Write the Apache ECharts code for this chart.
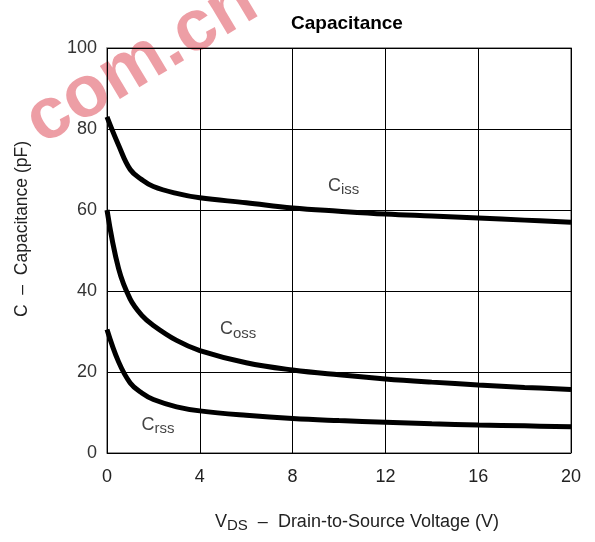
<!DOCTYPE html>
<html><head><meta charset="utf-8">
<script src="https://cdn.jsdelivr.net/npm/echarts@6/dist/echarts.min.js"></script>
<style>html,body{margin:0;padding:0;background:#fff}#c{width:595px;height:542px}</style>
</head><body><div id="c"></div>
<script>
const vds = [0, 0.5, 1, 1.5, 2, 3, 4, 6, 8, 10, 12, 14, 16, 18, 20];
const ciss = [83, 76, 70, 67.5, 65.8, 64.1, 63, 61.8, 60.5, 59.7, 59, 58.5, 58, 57.5, 57];
const coss = [60, 45.5, 38, 34, 31.5, 27.8, 25.3, 22.3, 20.5, 19.3, 18.3, 17.5, 16.8, 16.2, 15.7];
const crss = [30.5, 22.5, 17.3, 14.8, 13.2, 11.4, 10.4, 9.3, 8.5, 8, 7.6, 7.2, 6.9, 6.7, 6.5];
const seriesNames = ['iss', 'oss', 'rss'];
const labelX = [10.2, 5.65, 2.2];
const labelY = [66, 30.5, 7];
const xTicks = [0, 4, 8, 12, 16, 20];
const yTicks = [0, 20, 40, 60, 80, 100];

const font = '"Liberation Sans", Arial, Helvetica, sans-serif';
const chart = echarts.init(document.getElementById('c'), null, {renderer: 'canvas'});
const mk = (ys) => vds.map((x, i) => [x, ys[i]]);
const lineSeries = [ciss, coss, crss].map(ys => ({
  type: 'line', data: mk(ys), smooth: 0.4, symbol: 'none',
  lineStyle: {color: '#000', width: 5}, z: 3
}));
chart.setOption({
  animation: false,
  title: {text: 'Capacitance', left: 286, top: 9,
    textStyle: {fontFamily: font, fontWeight: 'bold', fontSize: 19, color: '#000'}},
  grid: {left: 107, right: 24, top: 48, bottom: 89, show: true, borderColor: '#777', borderWidth: 1.5},
  xAxis: {type: 'value', min: 0, max: 20, interval: 4,
    axisLine: {show: false}, axisTick: {show: false},
    splitLine: {show: true, lineStyle: {color: '#000', width: 1}},
    axisLabel: {fontFamily: font, fontSize: 18, color: '#222', margin: 15}},
  yAxis: {type: 'value', min: 0, max: 100, interval: 20,
    axisLine: {show: false}, axisTick: {show: false},
    splitLine: {show: true, lineStyle: {color: '#000', width: 1}},
    axisLabel: {fontFamily: font, fontSize: 18, color: '#333', margin: 10}},
  series: lineSeries.concat([{
    type: 'scatter', symbolSize: 0, z: 4,
    data: labelX.map((x, i) => ({value: [x, labelY[i]], name: seriesNames[i]})),
    label: {show: true, position: 'inside',
      formatter: p => '{c|C}{s|' + p.name + '}',
      rich: {c: {fontFamily: font, fontSize: 18, color: '#111'},
             s: {fontFamily: font, fontSize: 15, color: '#111', padding: [8, 0, 0, 0]}}}
  }]),
  graphic: [
    {type: 'text', x: 32, y: 128, rotation: 0.54, z: 0,
      style: {text: 'com.cn', fill: 'rgba(215,40,55,0.45)', font: 'bold 73px ' + font,
        align: 'left', verticalAlign: 'middle'}},
    {type: 'text', x: 22, y: 229, rotation: Math.PI / 2,
      style: {text: 'C  –  Capacitance (pF)', fill: '#222', font: '17.5px ' + font,
        align: 'center', verticalAlign: 'middle'}},
    {type: 'text', x: 357, y: 522,
      style: {text: '{v|V}{s|DS}{v|  –  Drain-to-Source Voltage (V)}', align: 'center', verticalAlign: 'middle',
        rich: {v: {fontFamily: font, fontSize: 18, fill: '#222'},
               s: {fontFamily: font, fontSize: 15, fill: '#222', padding: [8, 0, 0, 0]}}}}
  ]
});
</script></body></html>
